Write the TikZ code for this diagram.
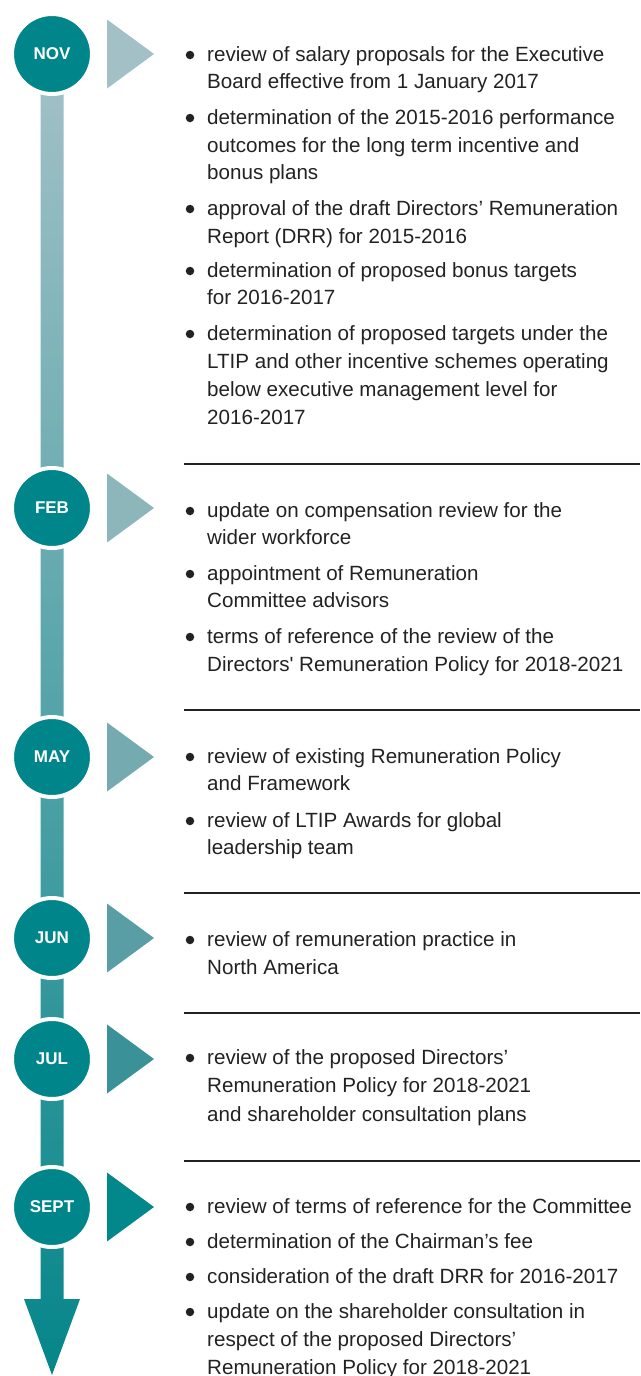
\documentclass[tikz,border=0pt]{standalone}
\usepackage{fontspec}
\setmainfont{Liberation Sans}
\newfontfamily\bodyfont{Liberation Sans}
\definecolor{teal0}{HTML}{00868A}
\definecolor{tA}{HTML}{A2C0C6}
\definecolor{tB}{HTML}{8DB6BB}
\definecolor{tC}{HTML}{74AAB0}
\definecolor{tD}{HTML}{5A9EA5}
\definecolor{tE}{HTML}{3A9197}
\definecolor{tF}{HTML}{02878B}
\definecolor{barTop}{HTML}{A3C1C7}
\definecolor{barMid}{HTML}{6FA7AD}
\definecolor{barBot}{HTML}{05868A}
\definecolor{ink}{HTML}{222222}
\tikzset{
  month/.style={circle, fill=teal0, draw=white, line width=4pt, minimum size=80pt,
    inner sep=0pt, text=white, font=\fontsize{17}{17}\selectfont\bfseries},
  txt/.style={anchor=base west, inner sep=0pt, text=ink, font=\bodyfont\fontsize{20.6}{27}\selectfont},
  dot/.style={circle, fill=ink, inner sep=0pt, minimum size=8.5pt},
  sepline/.style={line width=1.2pt, draw=ink},
}
\newcounter{ln}
\newcommand\bitem[2]{\stepcounter{ln}%
  \node[dot] (b\arabic{ln}) at (190,-#1) {};%
  \node[txt] (t\arabic{ln}) at (207,-#1-6) {#2};}
\newcommand\citem[2]{\stepcounter{ln}%
  \node[txt] (t\arabic{ln}) at (207,-#1-6) {#2};}
\newcommand\tri[2]{\fill[#2] ($(#1.center)+(55,34.5)$) -- ($(#1.center)+(102,0)$) -- ($(#1.center)+(55,-34.5)$) -- cycle;}
\usetikzlibrary{calc}
\begin{document}
\begin{tikzpicture}[x=1pt,y=1pt]
\useasboundingbox (0,0) rectangle (640,-1376);
% timeline bar with arrow head
\shade[top color=barTop, middle color=barMid, bottom color=barBot]
  (40.5,-54) -- (63.5,-54) -- (63.5,-1299) -- (80,-1299) -- (52,-1375)
  -- (24,-1299) -- (40.5,-1299) -- cycle;
% month circles
\node[month] (nov) at (52,-54) {NOV};
\node[month] (feb) at (52,-508) {FEB};
\node[month] (may) at (52,-757) {MAY};
\node[month] (jun) at (52,-938) {JUN};
\node[month] (jul) at (52,-1059) {JUL};
\node[month] (sept) at (52,-1207) {SEPT};
% pointers
\tri{nov}{tA}
\tri{feb}{tB}
\tri{may}{tC}
\tri{jun}{tD}
\tri{jul}{tE}
\tri{sept}{tF}
% separators
\foreach \yy/\nm in {464/s1,710/s2,893/s3,1013/s4,1161/s5}{
  \coordinate (\nm a) at (184,-\yy);
  \coordinate (\nm b) at (640,-\yy);
  \draw[sepline] (\nm a) -- (\nm b);
}
% NOV
\bitem{55}{review of salary proposals for the Executive}
\citem{82}{Board effective from 1 January 2017}
\bitem{118}{determination of the 2015-2016 performance}
\citem{146}{outcomes for the long term incentive and}
\citem{173}{bonus plans}
\bitem{209}{approval of the draft Directors’ Remuneration}
\citem{237}{Report (DRR) for 2015-2016}
\bitem{271}{determination of proposed bonus targets}
\citem{298}{for 2016-2017}
\bitem{334}{determination of proposed targets under the}
\citem{362}{LTIP and other incentive schemes operating}
\citem{390}{below executive management level for}
\citem{418}{2016-2017}
% FEB
\bitem{511}{update on compensation review for the}
\citem{538}{wider workforce}
\bitem{574}{appointment of Remuneration}
\citem{601}{Committee advisors}
\bitem{637}{terms of reference of the review of the}
\citem{665}{Directors' Remuneration Policy for 2018-2021}
% MAY
\bitem{757}{review of existing Remuneration Policy}
\citem{784}{and Framework}
\bitem{821}{review of LTIP Awards for global}
\citem{848}{leadership team}
% JUN
\bitem{940}{review of remuneration practice in}
\citem{968}{North America}
% JUL
\bitem{1058}{review of the proposed Directors’}
\citem{1086}{Remuneration Policy for 2018-2021}
\citem{1115}{and shareholder consultation plans}
% SEPT
\bitem{1207}{review of terms of reference for the Committee}
\bitem{1242}{determination of the Chairman’s fee}
\bitem{1277}{consideration of the draft DRR for 2016-2017}
\bitem{1312}{update on the shareholder consultation in}
\citem{1340}{respect of the proposed Directors’}
\citem{1368}{Remuneration Policy for 2018-2021}
\end{tikzpicture}
\end{document}
